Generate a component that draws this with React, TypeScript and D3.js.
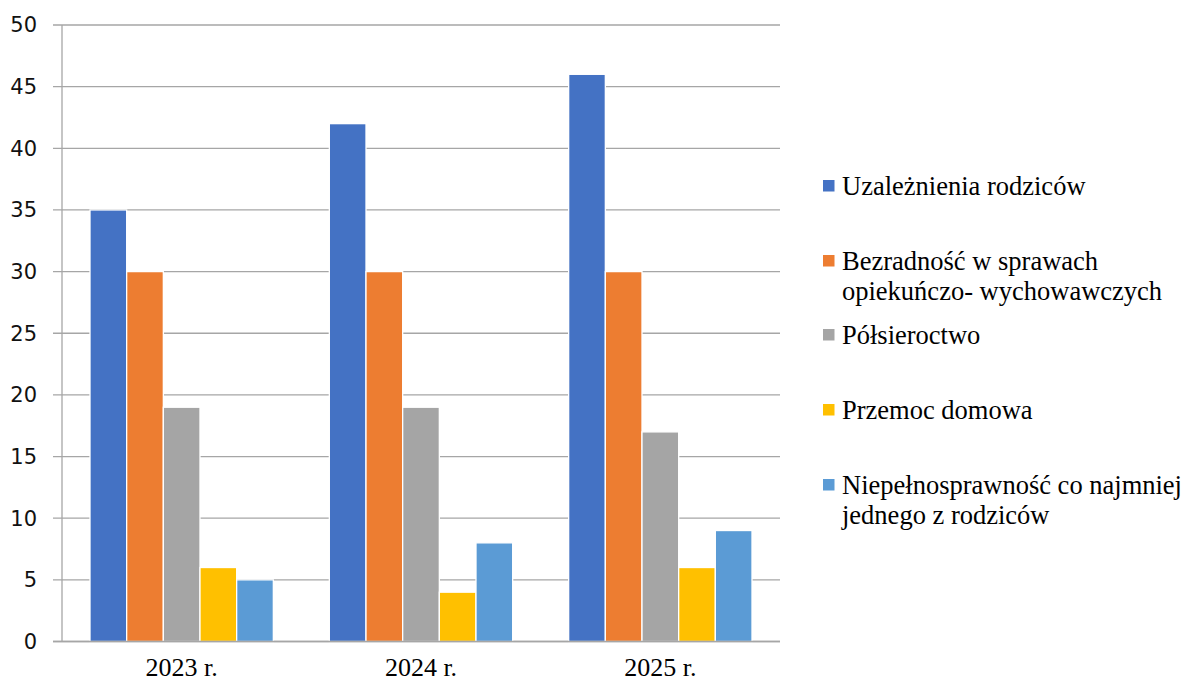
import React from "react";
import * as d3 from "d3";

const categories = ["2023 r.", "2024 r.", "2025 r."];
const seriesNames = [
  ["Uzależnienia rodziców"],
  ["Bezradność w sprawach", "opiekuńczo- wychowawczych"],
  ["Półsieroctwo"],
  ["Przemoc domowa"],
  ["Niepełnosprawność co najmniej", "jednego z rodziców"],
];
const seriesValues = [
  [35, 42, 46],
  [30, 30, 30],
  [19, 19, 17],
  [6, 4, 6],
  [5, 8, 9],
];
const colors = ["#4472C4", "#ED7D31", "#A5A5A5", "#FFC000", "#5B9BD5"];
const yTicks = [0, 5, 10, 15, 20, 25, 30, 35, 40, 45, 50];
const legendY = [186, 261, 335, 410, 485];

const SERIF = "'Liberation Serif', 'Times New Roman', 'DejaVu Serif', serif";

export default function App() {
  const W = 1184, H = 682;
  const left = 62, right = 780, top = 25, bottom = 641.5;
  const x0 = d3.scaleBand().domain(categories).range([left, right]).paddingInner(0).paddingOuter(0);
  const y = d3.scaleLinear().domain([0, 50]).range([bottom, top]);
  const groupPad = 28;
  const x1 = d3
    .scaleBand()
    .domain(d3.range(seriesValues.length).map(String))
    .range([groupPad, x0.bandwidth() - groupPad])
    .padding(0);

  return (
    <svg width={W} height={H} style={{ position: "absolute", left: 0, top: 0, background: "#fff" }}>
      {yTicks.map((t) => (
        <g key={t}>
          <line x1={53} x2={right} y1={y(t)} y2={y(t)} stroke="#a6a6a6" strokeWidth={1.3} />
          <text
            x={37}
            y={y(t)}
            dy="0.35em"
            textAnchor="end"
            fontFamily="DejaVu Sans"
            fontSize={21}
            fill="#111"
          >
            {t}
          </text>
        </g>
      ))}
      <line x1={left} x2={left} y1={top} y2={bottom} stroke="#a6a6a6" strokeWidth={1.3} />
      {categories.map((c, ci) => (
        <g key={c} transform={`translate(${x0(c)},0)`}>
          {seriesValues.map((vals, si) => (
            <rect
              key={si}
              x={x1(String(si))}
              y={y(vals[ci])}
              width={x1.bandwidth()}
              height={bottom - y(vals[ci])}
              fill={colors[si]}
              stroke="#fff"
              strokeWidth={1.3}
            />
          ))}
          <text
            x={x0.bandwidth() / 2}
            y={676}
            textAnchor="middle"
            fontFamily={SERIF}
            fontSize={26}
            fill="#000"
          >
            {c}
          </text>
        </g>
      ))}
      <line x1={53} x2={right} y1={bottom} y2={bottom} stroke="#a6a6a6" strokeWidth={1.3} />
      {seriesNames.map((lines, i) => (
        <g key={i}>
          <rect x={823} y={legendY[i] - 6} width={11.5} height={11.5} fill={colors[i]} />
          {lines.map((ln, li) => (
            <text
              key={li}
              x={842}
              y={legendY[i] + 8.5 + li * 30}
              fontFamily={SERIF}
              fontSize={26.5}
              fill="#000"
            >
              {ln}
            </text>
          ))}
        </g>
      ))}
    </svg>
  );
}
